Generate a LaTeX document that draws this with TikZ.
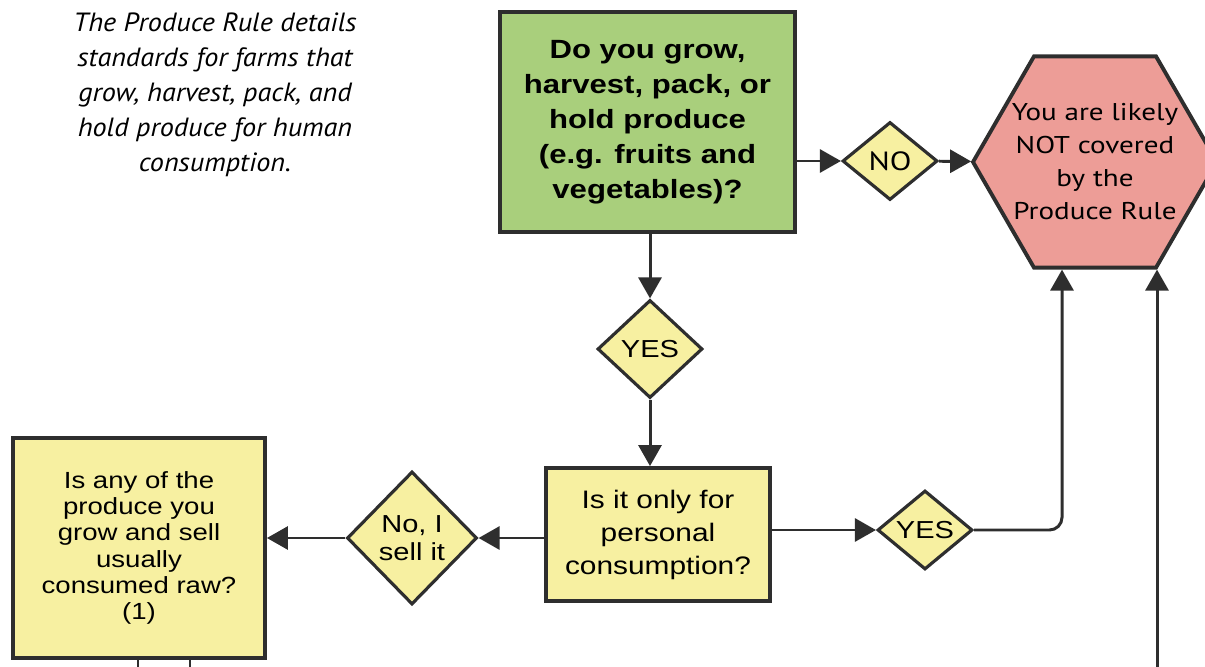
\documentclass[tikz,border=0pt]{standalone}
\usepackage{fontspec}
\setmainfont[FakeStretch=1.18]{Liberation Sans}
\newfontfamily\myriad[FakeStretch=1.2]{PT Sans}
\newfontfamily\myriadit[FakeStretch=1.07]{PT Sans Italic}
\usetikzlibrary{shapes.geometric, arrows.meta}

\definecolor{qgreen}{HTML}{A9CF7C}
\definecolor{qyellow}{HTML}{F7F0A1}
\definecolor{qred}{HTML}{ED9D97}
\definecolor{qline}{HTML}{2E2E2E}

\begin{document}
\begin{tikzpicture}

\tikzset{box/.style = {shape=rectangle, draw=qline, line width=2.2pt, align=center, inner sep=2pt}}
\tikzset{answer/.style = {shape=diamond, draw=qline, line width=1.8pt, fill=qyellow, inner sep=0pt, align=center, font=\fontsize{14}{16}\selectfont}}
\tikzset{result/.style = {shape=regular polygon, regular polygon sides=6, minimum size=4.88cm, draw=qline, line width=2.2pt, fill=qred, inner sep=0pt}}
\tikzset{edge/.style = {line width=1.7pt, draw=qline, -{Triangle[length=4.2mm, width=4.6mm]}}}

\useasboundingbox (0,0) rectangle (24.1,-13.34);

%intro
\node[align=center, font=\myriadit\fontsize{15}{19.9}\selectfont] (0) at (4.3,-1.9)
  {The Produce Rule details\\standards for farms that\\grow, harvest, pack, and\\hold produce for human\\consumption.};

%verticies
\node[box, fill=qgreen, minimum width=5.9cm, minimum height=4.4cm, font=\bfseries\fontsize{15}{19.9}\selectfont] (1) at (12.95,-2.44)
  {Do you grow,\\harvest, pack, or\\hold produce\\(e.g. fruits and\\vegetables)?};
\node[answer, minimum width=1.9cm, minimum height=1.56cm, font=\myriad\fontsize{15}{16}\selectfont] (2) at (17.8,-3.22) {NO};
\node[result, label={[align=center, font=\myriad\fontsize{13.8}{18.8}\selectfont]center:You are likely\\NOT covered\\by the\\Produce Rule}] (3) at (21.9,-3.24) {};
\node[answer, minimum width=2.1cm, minimum height=1.96cm] (4) at (13.0,-6.98) {YES};
\node[box, fill=qyellow, minimum width=4.48cm, minimum height=2.66cm, font=\fontsize{14.4}{18.8}\selectfont] (5) at (13.16,-10.69)
  {Is it only for\\personal\\consumption?};
\node[answer, minimum width=2.6cm, minimum height=2.66cm] (6) at (8.24,-10.76) {No, I\\sell it};
\node[box, fill=qyellow, minimum width=5.04cm, minimum height=4.4cm, font=\fontsize{13.3}{15}\selectfont] (7) at (2.78,-10.96)
  {Is any of the\\produce you\\grow and sell\\usually\\consumed raw?\\(1)};
\node[answer, minimum width=1.9cm, minimum height=1.58cm] (8) at (18.5,-10.6) {YES};

\coordinate (a) at (21.24,-5.3);
\coordinate (b) at (23.14,-13.6);
\coordinate (c) at (2.76,-13.6);
\coordinate (d) at (3.8,-13.6);

%edges
\draw [edge] (1.east |- 2) -- (2);
\draw [edge] (2) -- (3);
\draw [edge] (1.south -| 4) -- (4);
\draw [edge] (4) -- (4 |- 5.north);
\draw [edge] (5.west |- 6) -- (6);
\draw [edge] (6) -- (7.east |- 6);
\draw [edge] (5.east |- 8) -- (8);
\draw [edge, rounded corners=0.25cm] (8) -| (a |- 3.south);
\draw [edge] (b) -- (b |- 3.south);
\draw [line width=1.7pt, qline] (7.south -| c) -- (c);
\draw [line width=1.7pt, qline] (7.south -| d) -- (d);

\end{tikzpicture}
\end{document}
